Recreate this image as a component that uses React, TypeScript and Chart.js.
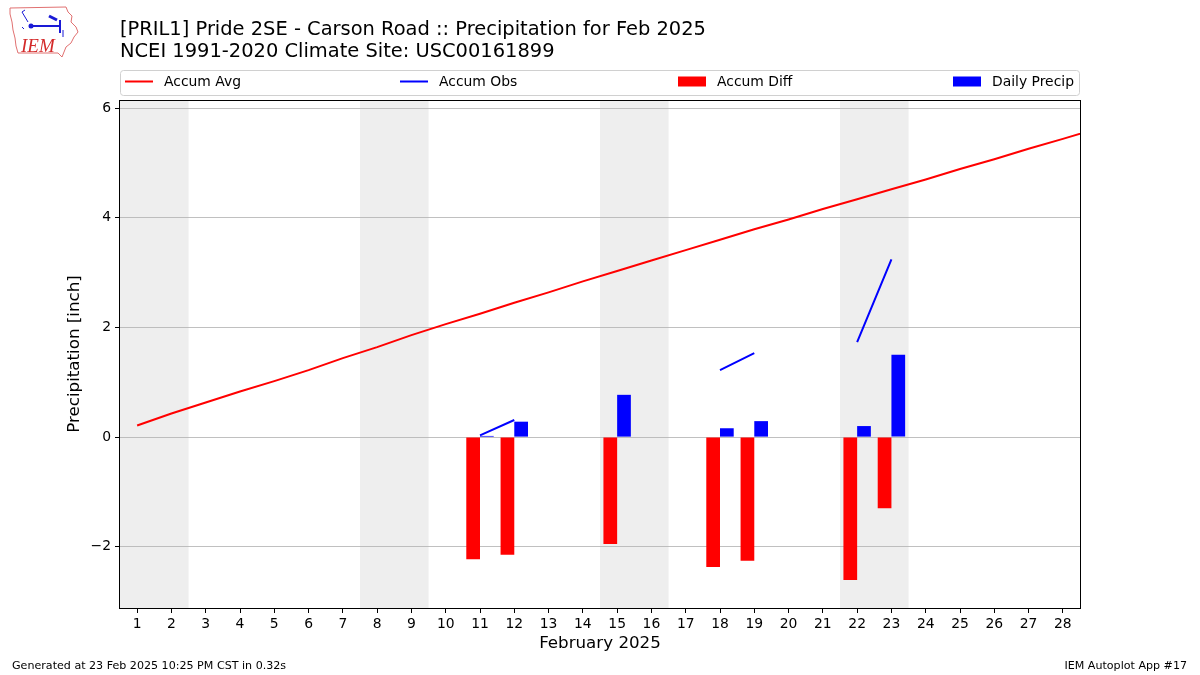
import React, { useEffect, useRef } from "react";
import { Chart, registerables } from "chart.js";

Chart.register(...registerables);

// ---- Data ----
const days = [1, 2, 3, 4, 5, 6, 7, 8, 9, 10, 11, 12, 13, 14, 15, 16, 17, 18, 19, 20, 21, 22, 23, 24, 25, 26, 27, 28];
const avgDays = [1, 2, 3, 4, 5, 6, 7, 8, 9, 10, 11, 12, 13, 14, 15, 16, 17, 18, 19, 20, 21, 22, 23, 24, 25, 26, 27, 28, 29];
const accumAvg = [0.21, 0.43, 0.63, 0.83, 1.02, 1.22, 1.44, 1.64, 1.86, 2.06, 2.25, 2.45, 2.64, 2.84, 3.03, 3.22, 3.41, 3.6, 3.79, 3.97, 4.16, 4.34, 4.52, 4.7, 4.89, 5.07, 5.26, 5.44, 5.63];
const accumObs = [null, null, null, null, null, null, null, null, null, null, 0.03, 0.31, null, null, 1.08, null, null, 1.22, 1.53, null, null, 1.73, 3.24, null, null, null, null, null];
const accumDiff = [null, null, null, null, null, null, null, null, null, null, -2.23, -2.15, null, null, -1.95, null, null, -2.37, -2.26, null, null, -2.61, -1.3, null, null, null, null, null];
const dailyPrecip = [null, null, null, null, null, null, null, null, null, null, 0.02, 0.28, null, null, 0.77, null, null, 0.16, 0.29, null, null, 0.2, 1.5, null, null, null, null, null];
const weekendDays = [1, 2, 8, 9, 15, 16, 22, 23];
const yTicks = [-2, 0, 2, 4, 6];
const yMin = -3.12;
const yMax = 6.15;

const titleLines = [
  "[PRIL1] Pride 2SE - Carson Road :: Precipitation for Feb 2025",
  "NCEI 1991-2020 Climate Site: USC00161899",
];
const xTitle = "February 2025";
const yTitle = "Precipitation [inch]";
const footerLeft = "Generated at 23 Feb 2025 10:25 PM CST in 0.32s";
const footerRight = "IEM Autoplot App #17";
const legendLabels = ["Accum Avg", "Accum Obs", "Accum Diff", "Daily Precip"];

const FONT = '"DejaVu Sans", sans-serif';

const decorPlugin = {
  id: "decor",
  beforeDraw(chart: any) {
    const { ctx, chartArea, scales } = chart;
    const x = scales.x;
    // merge consecutive weekend days into spans
    const spans: [number, number][] = [];
    for (const d of weekendDays) {
      const last = spans[spans.length - 1];
      if (last && last[1] === d - 1) last[1] = d;
      else spans.push([d, d]);
    }
    ctx.save();
    ctx.fillStyle = "#eeeeee";
    for (const [a, b] of spans) {
      const l = x.getPixelForValue(a - 0.5);
      const r = x.getPixelForValue(b + 0.5);
      ctx.fillRect(l, chartArea.top, r - l, chartArea.bottom - chartArea.top);
    }
    ctx.restore();
  },
  afterDatasetsDraw(chart: any) {
    const { ctx, chartArea } = chart;
    ctx.save();
    ctx.strokeStyle = "#000";
    ctx.lineWidth = 1;
    ctx.strokeRect(
      Math.round(chartArea.left) - 0.5,
      Math.round(chartArea.top) + 0.5,
      Math.round(chartArea.right - chartArea.left) + 1,
      Math.round(chartArea.bottom - chartArea.top)
    );
    ctx.restore();
  },
  afterDraw(chart: any) {
    const { ctx, chartArea } = chart;
    ctx.save();
    ctx.fillStyle = "#000";

    // Title
    ctx.font = `19.45px ${FONT}`;
    ctx.textAlign = "left";
    ctx.textBaseline = "alphabetic";
    ctx.fillText(titleLines[0], 120, 35);
    ctx.fillText(titleLines[1], 120, 57);

    // Legend box
    const lx = chartArea.left + 0.5;
    const ly = 70.5;
    const lw = chartArea.right - chartArea.left - 1;
    const lh = 25;
    const rr = 3;
    ctx.beginPath();
    ctx.moveTo(lx + rr, ly);
    ctx.lineTo(lx + lw - rr, ly);
    ctx.quadraticCurveTo(lx + lw, ly, lx + lw, ly + rr);
    ctx.lineTo(lx + lw, ly + lh - rr);
    ctx.quadraticCurveTo(lx + lw, ly + lh, lx + lw - rr, ly + lh);
    ctx.lineTo(lx + rr, ly + lh);
    ctx.quadraticCurveTo(lx, ly + lh, lx, ly + lh - rr);
    ctx.lineTo(lx, ly + rr);
    ctx.quadraticCurveTo(lx, ly, lx + rr, ly);
    ctx.closePath();
    ctx.fillStyle = "rgba(255,255,255,0.8)";
    ctx.fill();
    ctx.strokeStyle = "#d0d0d0";
    ctx.lineWidth = 1;
    ctx.stroke();

    const items = [
      { x: 125, kind: "line", color: "#ff0000" },
      { x: 400, kind: "line", color: "#0000ff" },
      { x: 678, kind: "rect", color: "#ff0000" },
      { x: 953, kind: "rect", color: "#0000ff" },
    ];
    const cy = 81.5;
    ctx.font = `13.9px ${FONT}`;
    ctx.textBaseline = "middle";
    items.forEach((it, i) => {
      if (it.kind === "line") {
        ctx.strokeStyle = it.color;
        ctx.lineWidth = 2;
        ctx.beginPath();
        ctx.moveTo(it.x, cy);
        ctx.lineTo(it.x + 28, cy);
        ctx.stroke();
      } else {
        ctx.fillStyle = it.color;
        ctx.fillRect(it.x, cy - 5, 28, 10);
      }
      ctx.fillStyle = "#000";
      ctx.fillText(legendLabels[i], it.x + 39, cy + 0.5);
    });

    // Axis titles
    ctx.font = `16.7px ${FONT}`;
    ctx.textAlign = "center";
    ctx.textBaseline = "middle";
    ctx.fillText(xTitle, (chartArea.left + chartArea.right) / 2, 643.5);
    ctx.save();
    ctx.translate(75, (chartArea.top + chartArea.bottom) / 2);
    ctx.rotate(-Math.PI / 2);
    ctx.fillText(yTitle, 0, 0);
    ctx.restore();

    // Footer
    ctx.font = `11.1px ${FONT}`;
    ctx.textBaseline = "alphabetic";
    ctx.textAlign = "left";
    ctx.fillText(footerLeft, 12, 669);
    ctx.textAlign = "right";
    ctx.fillText(footerRight, 1187, 669);

    // Logo (approximation)
    ctx.strokeStyle = "#e07070";
    ctx.lineWidth = 1;
    const pts = [
      [10, 8], [66, 7], [68, 12], [72, 16], [71, 22], [76, 27], [78, 32], [74, 37],
      [71, 43], [66, 47], [64, 52], [62, 57], [58, 53], [18, 53], [16, 46], [15, 38],
      [13, 30], [12, 22], [10, 14],
    ];
    ctx.beginPath();
    pts.forEach((p, i) => (i === 0 ? ctx.moveTo(p[0], p[1]) : ctx.lineTo(p[0], p[1])));
    ctx.closePath();
    ctx.stroke();
    ctx.fillStyle = "#d42a2a";
    ctx.font = 'italic 19px "Liberation Serif", serif';
    ctx.textAlign = "left";
    ctx.fillText("IEM", 21, 52);
    ctx.strokeStyle = "#1a1ad6";
    ctx.fillStyle = "#1a1ad6";
    ctx.lineWidth = 2;
    ctx.beginPath();
    ctx.moveTo(31, 26);
    ctx.lineTo(61, 26);
    ctx.moveTo(60, 20);
    ctx.lineTo(60, 33);
    ctx.stroke();
    ctx.beginPath();
    ctx.arc(31, 26, 2.5, 0, Math.PI * 2);
    ctx.fill();
    ctx.lineWidth = 3;
    ctx.beginPath();
    ctx.moveTo(49, 16);
    ctx.lineTo(57, 20);
    ctx.stroke();
    ctx.lineWidth = 1;
    ctx.beginPath();
    ctx.moveTo(22, 12);
    ctx.lineTo(28, 22);
    ctx.moveTo(22, 12);
    ctx.lineTo(25, 10);
    ctx.moveTo(63, 30);
    ctx.lineTo(63, 37);
    ctx.moveTo(22, 27);
    ctx.lineTo(24, 29);
    ctx.stroke();

    ctx.restore();
  },
};

export default function App() {
  const ref = useRef<HTMLCanvasElement | null>(null);

  useEffect(() => {
    if (!ref.current) return;
    const xy = (xs: number[], ys: (number | null)[]) => xs.map((x, i) => ({ x, y: ys[i] }));
    const chart = new Chart(ref.current, {
      type: "bar",
      data: {
        datasets: [
          {
            type: "line",
            label: "Accum Avg",
            data: xy(avgDays, accumAvg),
            borderColor: "#ff0000",
            borderWidth: 2,
            pointRadius: 0,
            fill: false,
            clip: 0,
            order: 0,
          } as any,
          {
            type: "line",
            label: "Accum Obs",
            data: xy(days, accumObs),
            borderColor: "#0000ff",
            borderWidth: 2,
            pointRadius: 0,
            spanGaps: false,
            fill: false,
            clip: 0,
            order: 0,
          } as any,
          {
            type: "bar",
            label: "Accum Diff",
            data: xy(days, accumDiff),
            backgroundColor: "#ff0000",
            borderWidth: 0,
            categoryPercentage: 0.8,
            barPercentage: 1.0,
            order: 1,
          } as any,
          {
            type: "bar",
            label: "Daily Precip",
            data: xy(days, dailyPrecip),
            backgroundColor: "#0000ff",
            borderWidth: 0,
            categoryPercentage: 0.8,
            barPercentage: 1.0,
            order: 1,
          } as any,
        ],
      },
      options: {
        responsive: false,
        animation: false,
        events: [],
        layout: { padding: { left: 0, right: 120, top: 100, bottom: 0 } },
        plugins: {
          legend: { display: false },
          title: { display: false },
          tooltip: { enabled: false },
        },
        scales: {
          x: {
            type: "linear",
            min: 0.5,
            max: 28.5,
            offset: false,
            border: { display: false },
            grid: {
              display: true,
              offset: false,
              drawOnChartArea: false,
              tickColor: "#000",
              tickLength: 5,
              lineWidth: 1,
            },
            ticks: {
              color: "#000",
              font: { family: "DejaVu Sans", size: 13.9 },
              padding: 3,
              maxRotation: 0,
              autoSkip: false,
            },
            afterBuildTicks: (s: any) => {
              s.ticks = days.map((v) => ({ value: v }));
            },
            afterFit: (s: any) => {
              s.height = 67;
            },
          } as any,
          y: {
            type: "linear",
            min: yMin,
            max: yMax,
            border: { display: false },
            grid: {
              color: "#b0b0b0",
              lineWidth: 0.8,
              tickColor: "#000",
              tickLength: 5,
              tickWidth: 1,
            },
            ticks: {
              color: "#000",
              font: { family: "DejaVu Sans", size: 13.9 },
              padding: 4,
              callback: (v: any) => (v < 0 ? "\u2212" + Math.abs(v) : String(v)),
            },
            afterBuildTicks: (s: any) => {
              s.ticks = yTicks.map((v) => ({ value: v }));
            },
            afterFit: (s: any) => {
              s.width = 120;
            },
          } as any,
        },
      },
      plugins: [decorPlugin],
    });
    return () => chart.destroy();
  }, []);

  return (
    <div style={{ position: "absolute", left: 0, top: 0, width: 1200, height: 675, background: "#fff" }}>
      <canvas ref={ref} width={1200} height={675} style={{ display: "block", width: 1200, height: 675 }} />
    </div>
  );
}
